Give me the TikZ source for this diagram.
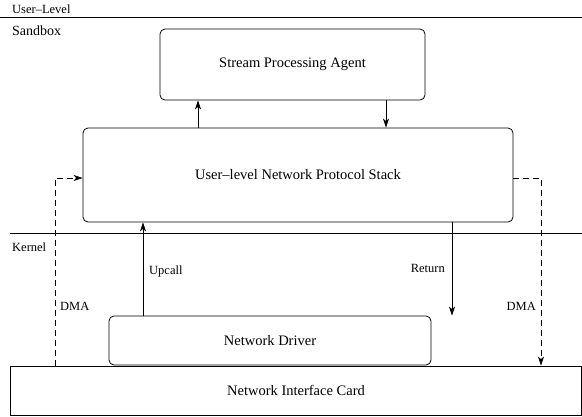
\documentclass[tikz,border=0pt]{standalone}
\usepackage{fontspec}
\setmainfont{Liberation Serif}
\usetikzlibrary{arrows.meta}
\tikzset{
  layer/.style={shape=rectangle,draw,rounded corners=5pt,line width=0.8pt,inner sep=0pt,font=\fontsize{14.5}{17}\selectfont},
  tag/.style={inner sep=0pt,font=\fontsize{12.5}{15}\selectfont},
  flow/.style={-{Stealth[length=9pt,width=6pt,inset=2.5pt]},line width=0.8pt},
  dma/.style={-{Stealth[length=9pt,width=6pt,inset=2.5pt]},dashed,line width=0.8pt,dash pattern=on 6pt off 4pt}
}
\begin{document}
\begin{tikzpicture}[x=1pt,y=-1pt]
\useasboundingbox (0,0) rectangle (582,416);
% layers
\node(agent)  at (292.5,64.5)[layer,minimum width=265pt,minimum height=71pt] {Stream Processing Agent};
\node(stack)  at (298,175)[layer,minimum width=430pt,minimum height=94pt]    {User--level Network Protocol Stack};
\node(driver) at (270,340.5)[layer,minimum width=322pt,minimum height=49pt]  {Network Driver};
\node(nic)    at (296,390.5)[layer,rounded corners=0pt,minimum width=571pt,minimum height=49pt] {Network Interface Card};
% boundaries
\draw[line width=0.8pt] (0,17) -- (582,17);
\draw[line width=0.8pt] (10,233) -- (582,233);
\node(userlevel) at (12,9)[tag,anchor=west]   {User--Level};
\node(sandbox)   at (12,31)[tag,anchor=west,font=\fontsize{14}{16}\selectfont] {Sandbox};
\node(kernel)    at (12,247)[tag,anchor=west] {Kernel};
% connectors
\coordinate(toagent) at (198,0);
\coordinate(fromagent) at (386,0);
\coordinate(up) at (143,0);
\coordinate(ret) at (452,0);
\coordinate(dl) at (55,178);
\coordinate(dr) at (541,178);
\draw[flow] (stack.north -| toagent) -- (agent.south -| toagent);
\draw[flow] (agent.south -| fromagent) -- (stack.north -| fromagent);
\draw[flow] (driver.north -| up) -- (stack.south -| up);
\draw[flow] (stack.south -| ret) -- (driver.north -| ret);
\draw[dma] (nic.north -| dl) -- (dl) -- (stack.west |- dl);
\draw[dma] (stack.east |- dr) -- (dr) -- (nic.north -| dr);
\node(upcall) at (149,271)[tag,anchor=west] {Upcall};
\node(return) at (445,268)[tag,anchor=east] {Return};
\node(dmaL)   at (60,306)[tag,anchor=west]  {DMA};
\node(dmaR)   at (536,306)[tag,anchor=east] {DMA};
\end{tikzpicture}
\end{document}
